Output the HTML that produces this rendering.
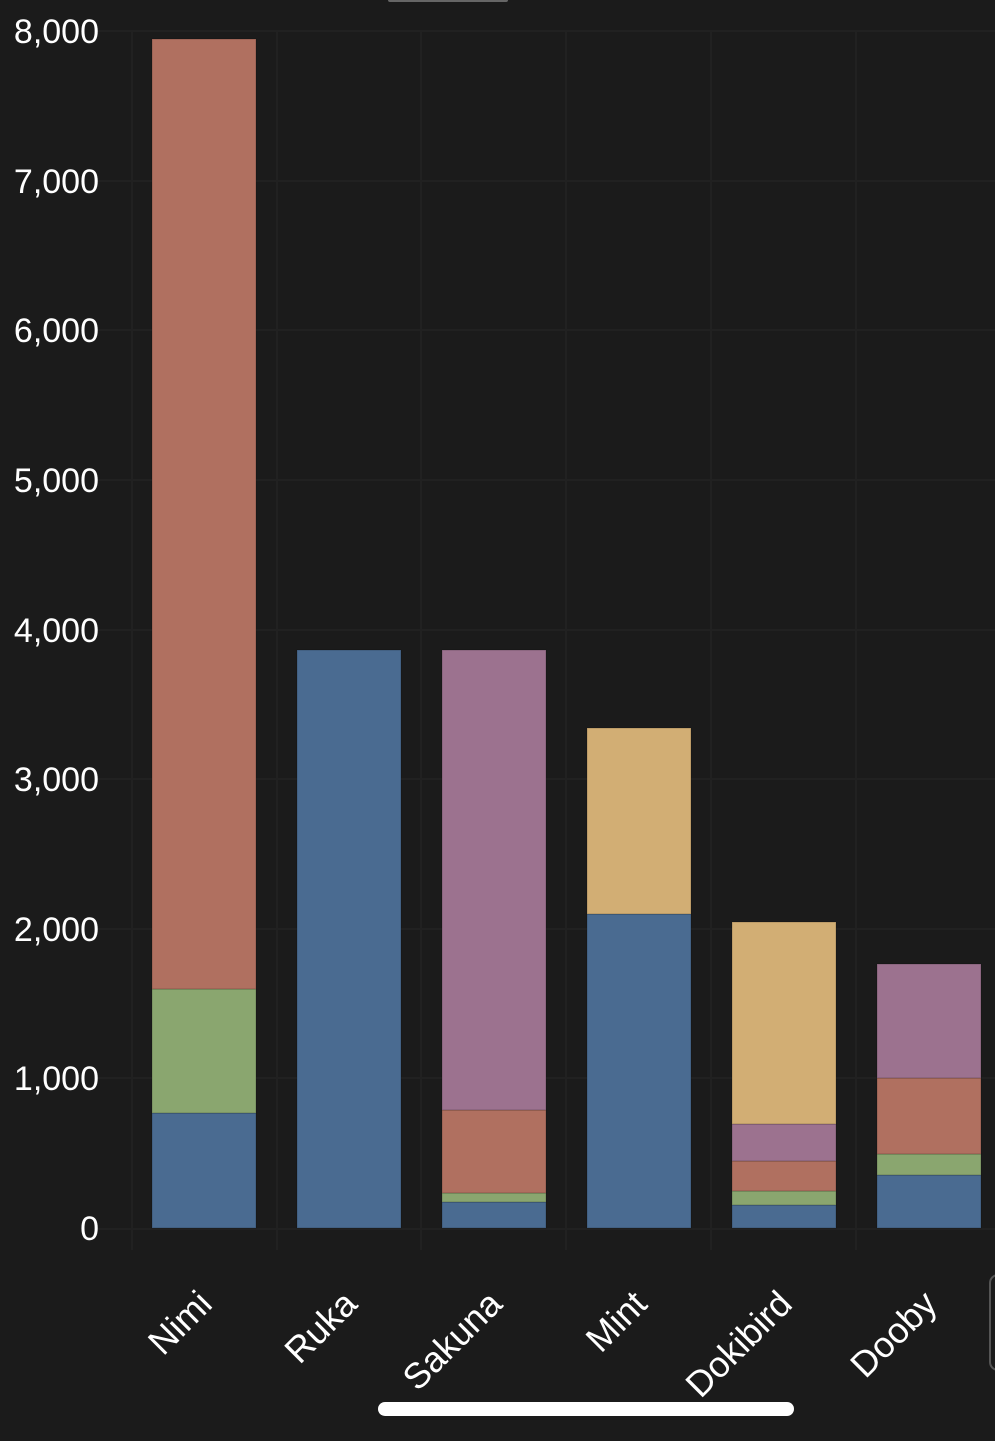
<!DOCTYPE html>
<html><head><style>body{margin:0;background:#1b1b1b}svg{display:block}</style></head><body>
<svg width="995" height="1441" xmlns="http://www.w3.org/2000/svg" font-family="Liberation Sans, sans-serif">
<rect width="995" height="1441" fill="#1b1b1b"/>
<rect x="388" y="-2" width="120" height="4" rx="2" fill="#666"/>
<g stroke="#212121" stroke-width="2">
<line x1="95" y1="31" x2="995" y2="31"/><line x1="95" y1="181" x2="995" y2="181"/><line x1="95" y1="330" x2="995" y2="330"/><line x1="95" y1="480" x2="995" y2="480"/><line x1="95" y1="630" x2="995" y2="630"/><line x1="95" y1="779" x2="995" y2="779"/><line x1="95" y1="929" x2="995" y2="929"/><line x1="95" y1="1078" x2="995" y2="1078"/><line x1="95" y1="1229" x2="995" y2="1229"/>
<line x1="132" y1="31" x2="132" y2="1250"/><line x1="277" y1="31" x2="277" y2="1250"/><line x1="421" y1="31" x2="421" y2="1250"/><line x1="566" y1="31" x2="566" y2="1250"/><line x1="711" y1="31" x2="711" y2="1250"/><line x1="856" y1="31" x2="856" y2="1250"/>
</g>
<g stroke="rgba(0,0,0,0.2)" stroke-width="1">
<rect x="152" y="1113" width="104" height="115" fill="#4a6b91"/>
<rect x="152" y="989" width="104" height="124" fill="#8aa66f"/>
<rect x="152" y="39" width="104" height="950" fill="#b07060"/>
<rect x="297" y="650" width="104" height="578" fill="#4a6b91"/>
<rect x="442" y="1202" width="104" height="26" fill="#4a6b91"/>
<rect x="442" y="1193" width="104" height="9" fill="#8aa66f"/>
<rect x="442" y="1110" width="104" height="83" fill="#b07060"/>
<rect x="442" y="650" width="104" height="460" fill="#9c728f"/>
<rect x="587" y="914" width="104" height="314" fill="#4a6b91"/>
<rect x="587" y="728" width="104" height="186" fill="#d2ae74"/>
<rect x="732" y="1205" width="104" height="23" fill="#4a6b91"/>
<rect x="732" y="1191" width="104" height="14" fill="#8aa66f"/>
<rect x="732" y="1161" width="104" height="30" fill="#b07060"/>
<rect x="732" y="1124" width="104" height="37" fill="#9c728f"/>
<rect x="732" y="922" width="104" height="202" fill="#d2ae74"/>
<rect x="877" y="1175" width="104" height="53" fill="#4a6b91"/>
<rect x="877" y="1154" width="104" height="21" fill="#8aa66f"/>
<rect x="877" y="1078" width="104" height="76" fill="#b07060"/>
<rect x="877" y="964" width="104" height="114" fill="#9c728f"/>
</g>
<g fill="#fff" font-size="34" text-anchor="end">
<text x="99" y="43">8,000</text><text x="99" y="193">7,000</text><text x="99" y="342">6,000</text><text x="99" y="492">5,000</text><text x="99" y="642">4,000</text><text x="99" y="791">3,000</text><text x="99" y="941">2,000</text><text x="99" y="1090">1,000</text><text x="99" y="1240">0</text>
</g>
<g fill="#fff" font-size="36" text-anchor="end">
<text transform="translate(214,1306) rotate(-45)">Nimi</text>
<text transform="translate(359,1306) rotate(-45)">Ruka</text>
<text transform="translate(504,1306) rotate(-45)">Sakuna</text>
<text transform="translate(649,1306) rotate(-45)">Mint</text>
<text transform="translate(794,1306) rotate(-45)">Dokibird</text>
<text transform="translate(939,1306) rotate(-45)">Dooby</text>
</g>
<rect x="378" y="1402" width="416" height="14" rx="7" fill="#fff"/>
<rect x="990" y="1275" width="20" height="95" rx="8" fill="none" stroke="#555" stroke-width="2"/>
</svg>
</body></html>
